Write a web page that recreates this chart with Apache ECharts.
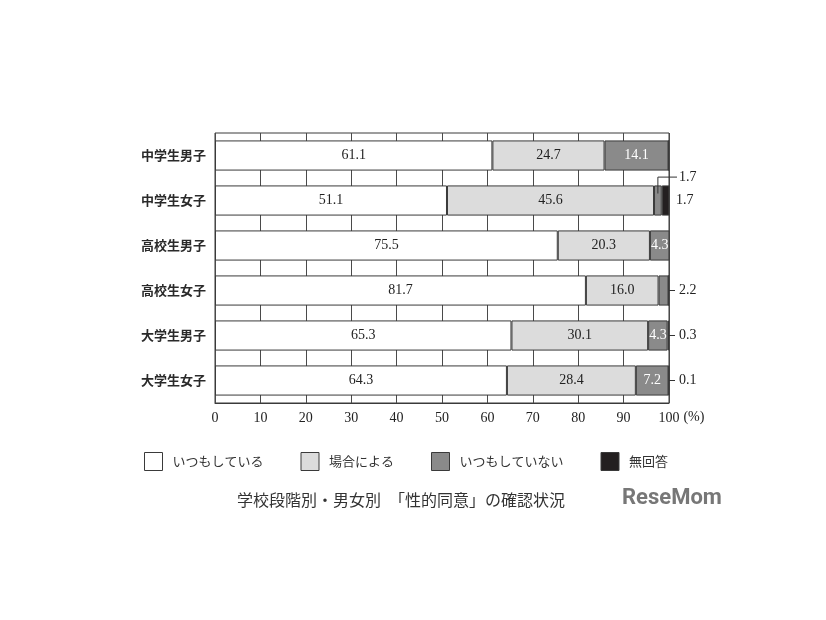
<!DOCTYPE html>
<html><head><meta charset="utf-8">
<script src="https://cdn.jsdelivr.net/npm/echarts@6/dist/echarts.min.js"></script>
<style>html,body{margin:0;padding:0;background:#fff;}#c{width:826px;height:620px;}</style>
</head><body><div id="c"></div>
<script>
var categories = ['中学生男子','中学生女子','高校生男子','高校生女子','大学生男子','大学生女子'];
var seriesNames = ['いつもしている','場合による','いつもしていない','無回答'];
var always    = [61.1, 51.1, 75.5, 81.7, 65.3, 64.3];
var depends   = [24.7, 45.6, 20.3, 16.0, 30.1, 28.4];
var never     = [14.1, 1.7, 4.3, 2.2, 4.3, 7.2];
var noAnswer  = [0, 1.7, 0, 0, 0.3, 0.1];
var xTicks = [0,10,20,30,40,50,60,70,80,90,100];
// outside annotations: row index, series index, style
var outsideRow    = [1, 1, 3, 4, 5];
var outsideSeries = [2, 3, 2, 3, 3];
var outsideKind   = ['leader', 'plain', 'dash', 'dash', 'dash'];

var allValues = [always, depends, never, noAnswer];
var colors = ['#ffffff', '#dcdcdc', '#8a8a8a', '#231f20'];
var labelColors = ['#222', '#222', '#fff', '#fff'];
var serif = '"Liberation Serif","DejaVu Serif",serif';
var cjk = '"Noto Sans CJK JP","Noto Sans CJK SC",sans-serif';

var series = allValues.map(function (vals, si) {
  return {
    name: seriesNames[si], type: 'bar', stack: 'total',
    barCategoryGap: '33%',
    data: vals,
    itemStyle: { color: colors[si], borderColor: '#3a3a3a', borderWidth: 1 },
    label: {
      show: true, position: 'inside', color: labelColors[si],
      fontFamily: serif, fontSize: 14,
      formatter: function (p) { return p.value >= 4 ? p.value.toFixed(1) : ''; }
    },
    emphasis: { disabled: true }
  };
});

var annData = outsideRow.map(function (r, i) {
  return [0, r, outsideSeries[i], i];
});
series.push({
  type: 'custom', name: 'ann', clip: false, silent: true,
  data: annData,
  encode: { x: 0, y: 1 },
  renderItem: function (params, api) {
    var row = api.value(1), si = api.value(2), k = api.value(3);
    var start = 0;
    for (var s = 0; s < si; s++) start += allValues[s][row];
    var v = allValues[si][row];
    var center = api.coord([start + v / 2, row]);
    var endPt = api.coord([100, row]);
    var band = api.size([0, 1])[1];
    var kind = outsideKind[k];
    var txt = v.toFixed(1);
    var children = [];
    var tstyle = { fill: '#222', font: '14px ' + serif, textVerticalAlign: 'middle', textAlign: 'left' };
    if (kind === 'leader') {
      var yTop = center[1] - band * 0.52;
      children.push({ type: 'polyline', shape: { points: [[center[0], center[1] - 7], [center[0], yTop], [endPt[0] + 8, yTop]] },
        style: { stroke: '#333', lineWidth: 1, fill: null } });
      children.push({ type: 'text', style: Object.assign({ x: endPt[0] + 10, y: yTop, text: txt }, tstyle) });
    } else if (kind === 'plain') {
      children.push({ type: 'text', style: Object.assign({ x: endPt[0] + 7, y: center[1], text: txt }, tstyle) });
    } else {
      children.push({ type: 'line', shape: { x1: endPt[0], y1: center[1], x2: endPt[0] + 6, y2: center[1] },
        style: { stroke: '#333', lineWidth: 1 } });
      children.push({ type: 'text', style: Object.assign({ x: endPt[0] + 10, y: center[1], text: txt }, tstyle) });
    }
    return { type: 'group', children: children };
  },
  z: 5
});

var chart = echarts.init(document.getElementById('c'), null, { renderer: 'canvas' });
chart.setOption({
  backgroundColor: '#fff',
  animation: false,
  grid: { left: 215, right: 157, top: 133, bottom: 217, show: true, borderColor: '#3a3a3a', borderWidth: 1, containLabel: false },
  xAxis: {
    type: 'value', min: 0, max: 100, interval: 10,
    name: '(%)', nameLocation: 'end', nameGap: 14,
    nameTextStyle: { fontFamily: serif, fontSize: 14, color: '#222', verticalAlign: 'top', padding: [7, 0, 0, 0] },
    axisLine: { show: true, lineStyle: { color: '#3a3a3a' } },
    axisTick: { show: false },
    axisLabel: { fontFamily: serif, fontSize: 14, color: '#222', margin: 8,
      formatter: function (v) { return xTicks.indexOf(v) >= 0 ? String(v) : ''; } },
    splitLine: { show: true, lineStyle: { color: '#4a4a4a', width: 1 } }
  },
  yAxis: {
    type: 'category', inverse: true, data: categories,
    axisLine: { show: false }, axisTick: { show: false },
    axisLabel: { fontFamily: cjk, fontSize: 13, fontWeight: 'bold', color: '#2a2a2a', margin: 9 }
  },
  legend: {
    data: seriesNames, top: 447, left: 139, itemGap: 37,
    itemWidth: 18, itemHeight: 18, icon: 'rect',
    itemStyle: { borderColor: '#3a3a3a', borderWidth: 1 },
    textStyle: { fontFamily: cjk, fontSize: 13, color: '#333', padding: [0, 0, 0, 5] },
    selectedMode: false
  },
  title: [
    { text: '学校段階別・男女別　「性的同意」の確認状況', left: 396, top: 487, textAlign: 'center',
      textStyle: { fontFamily: cjk, fontSize: 16, fontWeight: 'normal', color: '#333' } },
    { text: 'ReseMom', left: 617, top: 482,
      textStyle: { fontFamily: '"Roboto","Liberation Sans",sans-serif', fontSize: 22, fontWeight: 'bold', color: '#777' } }
  ],
  series: series
});
</script></body></html>
